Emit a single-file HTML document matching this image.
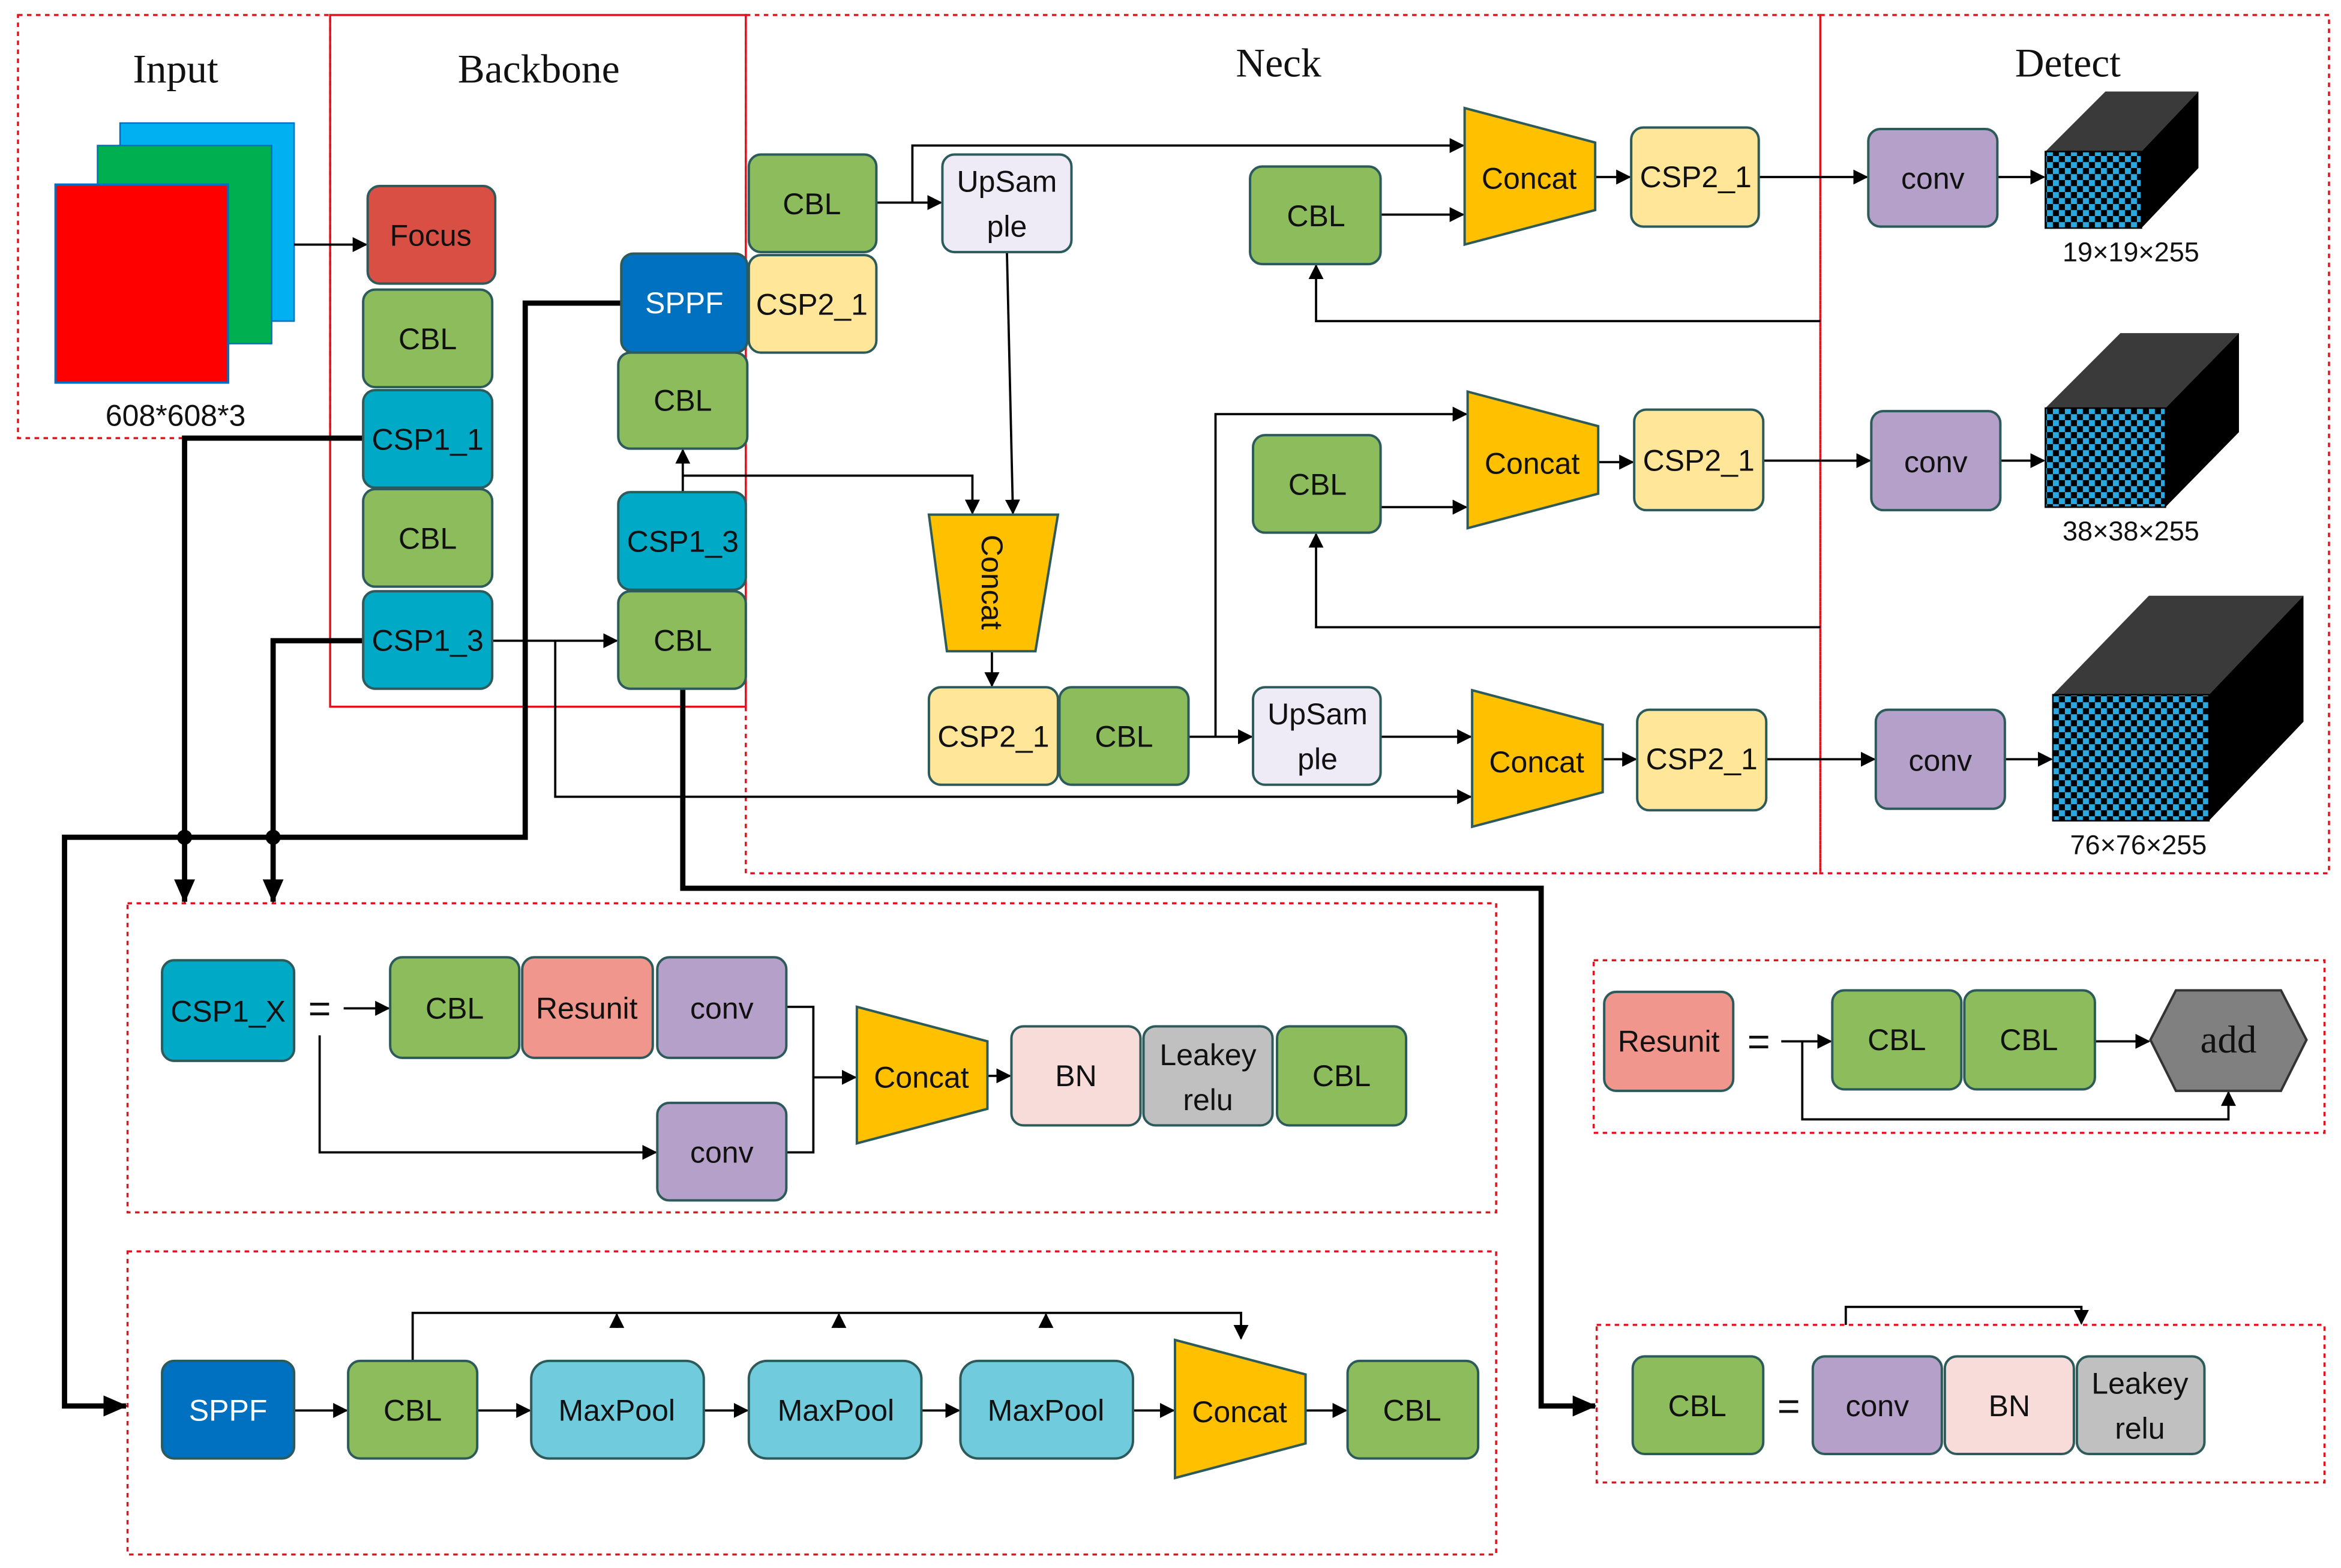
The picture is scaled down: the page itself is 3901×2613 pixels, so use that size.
<!DOCTYPE html>
<html><head><meta charset="utf-8"><style>
html,body{margin:0;padding:0;background:#fff;}
svg{display:block;}
text{font-family:"Liberation Sans",sans-serif;font-size:20px;fill:#111;text-anchor:middle;dominant-baseline:central;}
.t{font-family:"Liberation Serif",serif;font-size:27px;}
.n{stroke:#2d5b5b;stroke-width:1.6;}
.g{fill:#8cbc5c}.c{fill:#00a9c6}.y{fill:#ffe699}.p{fill:#b4a0c8}.u{fill:#eeebf6}.o{fill:#ffc000}
.l{stroke:#000;stroke-width:1.5;fill:none;}
.L{stroke:#000;stroke-width:3.5;fill:none;}
.d{fill:none;stroke:#e0141e;stroke-width:1.4;stroke-dasharray:3,3;}
</style></head><body>
<svg width="3901" height="2613" viewBox="0 0 1560 1045" preserveAspectRatio="none" xmlns="http://www.w3.org/2000/svg">
<defs>
<marker id="a" markerWidth="10" markerHeight="10" refX="9" refY="5" orient="auto" markerUnits="userSpaceOnUse"><path d="M0,0 L10,5 L0,10 z" fill="#000"/></marker>
<marker id="A" markerWidth="16" markerHeight="14" refX="15" refY="7" orient="auto" markerUnits="userSpaceOnUse"><path d="M0,0 L16,7 L0,14 z" fill="#000"/></marker>
<pattern id="ck" width="8" height="8" patternUnits="userSpaceOnUse"><rect width="8" height="8" fill="#000"/><rect width="4" height="4" fill="#2aa8e0"/><rect x="4" y="4" width="4" height="4" fill="#2aa8e0"/></pattern>
</defs>
<rect width="1560" height="1045" fill="#fff"/>
<!-- boxes -->
<rect class="d" x="12" y="10" width="208" height="282"/>
<rect x="220" y="10" width="277" height="461" fill="none" stroke="#e0141e" stroke-width="1.4"/>
<rect class="d" x="497" y="10" width="716" height="572"/>
<rect class="d" x="1213" y="10" width="339" height="572"/>
<rect class="d" x="85" y="602" width="912" height="206"/>
<rect class="d" x="85" y="834" width="912" height="202"/>
<rect class="d" x="1062" y="640" width="487" height="115"/>
<rect class="d" x="1064" y="883" width="485" height="105"/>
<text class="t" x="117" y="46">Input</text>
<text class="t" x="359" y="46">Backbone</text>
<text class="t" x="852" y="42">Neck</text>
<text class="t" x="1378" y="42">Detect</text>
<!-- input -->
<rect x="80" y="82" width="116" height="132" fill="#00b0f0" stroke="#0070c0"/>
<rect x="65" y="97" width="116" height="132" fill="#00b050" stroke="#0070c0"/>
<rect x="37" y="123" width="115" height="132" fill="#ff0000" stroke="#0070c0" stroke-width="1.5"/>
<text x="117" y="277">608*608*3</text>
<!-- connectors thin -->
<g class="l" marker-end="url(#a)">
<path d="M196,163 H244"/>
<path d="M584,135 H627"/>
<path d="M608,135 V97 H975"/>
<path d="M671,168 L675,342"/>
<path d="M455,328 V300"/>
<path d="M455,317 H648 V342"/>
<path d="M661,434 V457"/>
<path d="M792,491 H834"/>
<path d="M810,491 V276 H977"/>
<path d="M920,491 H980"/>
<path d="M328,427 H411"/>
<path d="M370,427 V531 H980"/>
<path d="M920,143 H975"/>
<path d="M920,338 H977"/>
<path d="M1063,118 H1086"/>
<path d="M1065,308 H1088"/>
<path d="M1068,506 H1090"/>
<path d="M1172,118 H1244"/>
<path d="M1175,307 H1246"/>
<path d="M1177,506 H1249"/>
<path d="M1331,118 H1362"/>
<path d="M1333,307 H1362"/>
<path d="M1336,506 H1367"/>
<path d="M1213,214 H877 V177"/>
<path d="M1213,418 H877 V356"/>
<!-- csp box -->
<path d="M229,672 H259"/>
<path d="M542,718 H570"/>
<path d="M213,690 V768 H437"/>
<path d="M658,717 H673"/>
<!-- resunit -->
<path d="M1187,694 H1220"/>
<path d="M1201,694 V746 H1485 V728"/>
<path d="M1396,694 H1432"/>
<!-- sppf -->
<path d="M196,940 H231"/>
<path d="M318,940 H353"/>
<path d="M469,940 H498"/>
<path d="M614,940 H639"/>
<path d="M755,940 H782"/>
<path d="M870,940 H897"/>
<path d="M275,907 V875 H827 V892"/>
<path d="M411,885 V876"/>
<path d="M559,885 V876"/>
<path d="M697,885 V876"/>
<path d="M1230,883 V871 H1387 V882"/>
</g>
<path class="l" d="M524,671 H542 V768 H524"/>
<!-- thick -->
<g class="L" marker-end="url(#A)">
<path d="M242,292 H123 V601"/>
<path d="M242,427 H182 V601"/>
<path d="M414,202 H350 V558 H43 V937 H84"/>
<path d="M455,459 V592 H1027 V937 H1063"/>
</g>
<circle cx="123" cy="558" r="5"/><circle cx="182" cy="558" r="5"/>
<!-- backbone nodes -->
<g class="n">
<rect x="245" y="124" width="85" height="65" rx="8" fill="#d94f43"/>
<rect class="g" x="242" y="193" width="86" height="65" rx="8"/>
<rect class="c" x="242" y="260" width="86" height="65" rx="8"/>
<rect class="g" x="242" y="326" width="86" height="65" rx="8"/>
<rect class="c" x="242" y="394" width="86" height="65" rx="8"/>
<rect x="414" y="169" width="84" height="66" rx="8" fill="#0070c0"/>
<rect class="g" x="412" y="235" width="86" height="64" rx="8"/>
<rect class="c" x="412" y="328" width="85" height="65" rx="8"/>
<rect class="g" x="412" y="394" width="85" height="65" rx="8"/>
<!-- neck -->
<rect class="g" x="499" y="103" width="85" height="65" rx="8"/>
<rect class="y" x="499" y="170" width="85" height="65" rx="8"/>
<rect class="u" x="628" y="103" width="86" height="65" rx="8"/>
<polygon class="o" points="619,343 705,343 690,434 631,434"/>
<rect class="y" x="619" y="458" width="86" height="65" rx="8"/>
<rect class="g" x="706" y="458" width="86" height="65" rx="8"/>
<rect class="u" x="835" y="458" width="85" height="65" rx="8"/>
<rect class="g" x="833" y="111" width="87" height="65" rx="8"/>
<polygon class="o" points="976,72 1063,95 1063,140 976,163"/>
<rect class="y" x="1087" y="85" width="85" height="66" rx="8"/>
<rect class="g" x="835" y="290" width="85" height="65" rx="8"/>
<polygon class="o" points="978,261 1065,284 1065,329 978,352"/>
<rect class="y" x="1089" y="273" width="86" height="67" rx="8"/>
<polygon class="o" points="981,460 1068,483 1068,528 981,551"/>
<rect class="y" x="1091" y="473" width="86" height="67" rx="8"/>
<rect class="p" x="1245" y="86" width="86" height="65" rx="8"/>
<rect class="p" x="1247" y="274" width="86" height="66" rx="8"/>
<rect class="p" x="1250" y="473" width="86" height="66" rx="8"/>
<!-- csp box -->
<rect class="c" x="108" y="640" width="88" height="67" rx="8"/>
<rect class="g" x="260" y="638" width="86" height="67" rx="8"/>
<rect x="348" y="638" width="87" height="67" rx="8" fill="#f0968c"/>
<rect class="p" x="438" y="638" width="86" height="67" rx="8"/>
<rect class="p" x="438" y="735" width="86" height="65" rx="8"/>
<polygon class="o" points="571,671 658,694 658,739 571,762"/>
<rect x="674" y="684" width="86" height="66" rx="8" fill="#f8dcda"/>
<rect x="762" y="684" width="86" height="66" rx="8" fill="#c0c0c0"/>
<rect class="g" x="851" y="684" width="86" height="66" rx="8"/>
<!-- resunit -->
<rect x="1069" y="661" width="86" height="66" rx="8" fill="#f0968c"/>
<rect class="g" x="1221" y="660" width="86" height="66" rx="8"/>
<rect class="g" x="1309" y="660" width="87" height="66" rx="8"/>
<polygon points="1450,660 1520,660 1537,693 1520,727 1450,727 1433,693" fill="#808080" stroke="#333"/>
<!-- sppf -->
<rect x="108" y="907" width="88" height="65" rx="8" fill="#0070c0"/>
<rect class="g" x="232" y="907" width="86" height="65" rx="8"/>
<rect x="354" y="907" width="115" height="65" rx="12" fill="#70ccdc"/>
<rect x="499" y="907" width="115" height="65" rx="12" fill="#70ccdc"/>
<rect x="640" y="907" width="115" height="65" rx="12" fill="#70ccdc"/>
<polygon class="o" points="783,893 870,916 870,962 783,985"/>
<rect class="g" x="898" y="907" width="87" height="65" rx="8"/>
<!-- cbl -->
<rect class="g" x="1088" y="904" width="87" height="65" rx="8"/>
<rect class="p" x="1208" y="904" width="86" height="65" rx="8"/>
<rect x="1296" y="904" width="86" height="65" rx="8" fill="#f8dcda"/>
<rect x="1384" y="904" width="85" height="65" rx="8" fill="#c0c0c0"/>
</g>
<!-- cubes -->
<polygon points="1363,101 1403,61 1465,61 1427,101" fill="#3a3a3a"/>
<polygon points="1427,101 1465,61 1465,112 1427,152" fill="#000"/>
<rect x="1363" y="101" width="64" height="51" fill="url(#ck)" stroke="#000"/>
<polygon points="1363,272 1413,222 1492,222 1443,272" fill="#3a3a3a"/>
<polygon points="1443,272 1492,222 1492,288 1443,338" fill="#000"/>
<rect x="1363" y="272" width="80" height="66" fill="url(#ck)" stroke="#000"/>
<polygon points="1368,463 1432,397 1535,397 1472,463" fill="#3a3a3a"/>
<polygon points="1472,463 1535,397 1535,481 1472,547" fill="#000"/>
<rect x="1368" y="463" width="104" height="84" fill="url(#ck)" stroke="#000"/>
<text x="1420" y="168" style="font-size:18px">19×19×255</text>
<text x="1420" y="354" style="font-size:18px">38×38×255</text>
<text x="1425" y="563" style="font-size:18px">76×76×255</text>
<!-- labels -->
<text x="287" y="157">Focus</text>
<text x="285" y="226">CBL</text>
<text x="285" y="293">CSP1_1</text>
<text x="285" y="359">CBL</text>
<text x="285" y="427">CSP1_3</text>
<text x="456" y="202" style="fill:#fff">SPPF</text>
<text x="455" y="267">CBL</text>
<text x="455" y="361">CSP1_3</text>
<text x="455" y="427">CBL</text>
<text x="541" y="136">CBL</text>
<text x="541" y="203">CSP2_1</text>
<text x="671" y="121">UpSam</text><text x="671" y="151">ple</text>
<text x="661" y="388" transform="rotate(90 661 388)">Concat</text>
<text x="662" y="491">CSP2_1</text>
<text x="749" y="491">CBL</text>
<text x="878" y="476">UpSam</text><text x="878" y="506">ple</text>
<text x="877" y="144">CBL</text>
<text x="1019" y="119">Concat</text>
<text x="1130" y="118">CSP2_1</text>
<text x="878" y="323">CBL</text>
<text x="1021" y="309">Concat</text>
<text x="1132" y="307">CSP2_1</text>
<text x="1024" y="508">Concat</text>
<text x="1134" y="506">CSP2_1</text>
<text x="1288" y="119">conv</text>
<text x="1290" y="308">conv</text>
<text x="1293" y="507">conv</text>
<text x="152" y="674">CSP1_X</text>
<text x="213" y="672" style="font-size:26px">=</text>
<text x="303" y="672">CBL</text>
<text x="391" y="672">Resunit</text>
<text x="481" y="672">conv</text>
<text x="481" y="768">conv</text>
<text x="614" y="718">Concat</text>
<text x="717" y="717">BN</text>
<text x="805" y="703">Leakey</text><text x="805" y="733">relu</text>
<text x="894" y="717">CBL</text>
<text x="1112" y="694">Resunit</text>
<text x="1172" y="694" style="font-size:26px">=</text>
<text x="1264" y="693">CBL</text>
<text x="1352" y="693">CBL</text>
<text x="1485" y="693" style="font-family:'Liberation Serif',serif;font-size:26px">add</text>
<text x="152" y="940" style="fill:#fff">SPPF</text>
<text x="275" y="940">CBL</text>
<text x="411" y="940">MaxPool</text>
<text x="557" y="940">MaxPool</text>
<text x="697" y="940">MaxPool</text>
<text x="826" y="941">Concat</text>
<text x="941" y="940">CBL</text>
<text x="1131" y="937">CBL</text>
<text x="1192" y="937" style="font-size:26px">=</text>
<text x="1251" y="937">conv</text>
<text x="1339" y="937">BN</text>
<text x="1426" y="922">Leakey</text><text x="1426" y="952">relu</text>
</svg>
</body></html>
